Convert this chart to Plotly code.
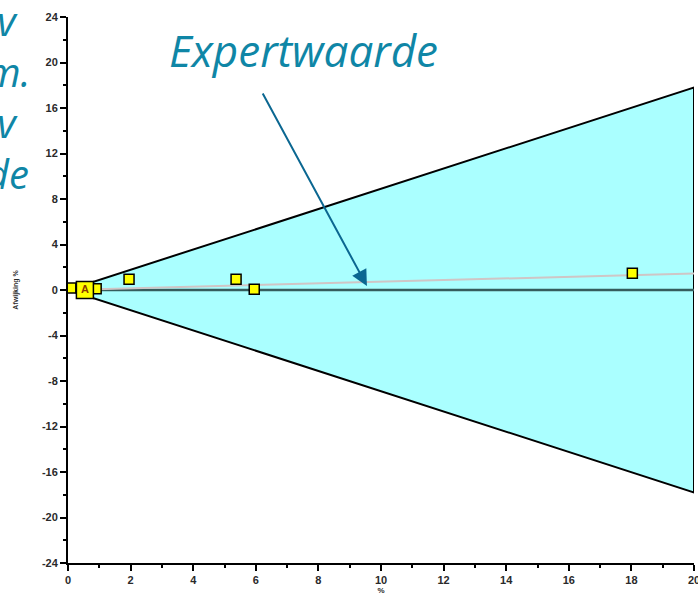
import plotly.graph_objs as go

# envelope (cyan area) and reference lines
envelope_x = [0, 20, 20, 0]
envelope_y = [0, 17.8, -17.8, 0]
expert_x = [0, 20]
expert_y = [0, 1.45]
zero_x = [0, 20]
zero_y = [0, 0]

# measurements
points_x = [0.09, 0.9, 1.95, 5.37, 5.95, 18.03]
points_y = [0.18, 0.12, 0.94, 0.94, 0.06, 1.47]
label_x = [0.54]
label_y = [0.0]
label_text = ["A"]

# cropped slide text on the left
side_lines = ["Afwijking t.o.v", "gem.", "Afwijking t.o.v", "expertwaarde"]

x_ticks = list(range(0, 21, 2))
x_labels = [str(v) for v in x_ticks]
y_ticks = list(range(-24, 25, 4))
y_labels = [str(v) for v in y_ticks]

W, H = 698, 598
L, R, T, B = 68, 4, 17, 35
plot_w = W - L - R
plot_h = H - T - B
teal = "#0f86a6"
arrow_color = "#0b6791"


def px_x(p):
    return (p - L) / plot_w


def px_y(p):
    return (H - B - p) / plot_h


fig = go.Figure()
fig.add_trace(
    go.Scatter(
        x = envelope_x,
        y = envelope_y,
        mode = "lines",
        fill = "toself",
        fillcolor = "#aaffff",
        line = dict(color = "black", width = 2),
        hoverinfo = "skip"
    )
)
fig.add_trace(
    go.Scatter(
        x = zero_x,
        y = zero_y,
        mode = "lines",
        line = dict(color = "#365c5c", width = 2.5),
        hoverinfo = "skip"
    )
)
fig.add_trace(
    go.Scatter(
        x = expert_x,
        y = expert_y,
        mode = "lines",
        line = dict(color = "#cfc6c6", width = 2)
    )
)
fig.add_trace(
    go.Scatter(
        x = points_x,
        y = points_y,
        mode = "markers",
        marker = dict(
            symbol = "square",
            size = 10,
            color = "#ffff00",
            line = dict(color = "black", width = 1.5)
        )
    )
)
fig.add_trace(
    go.Scatter(
        x = label_x,
        y = label_y,
        mode = "markers+text",
        text = label_text,
        textposition = "middle center",
        textfont = dict(family = "Liberation Sans", size = 11, color = "#8a3a00", weight = "bold"),
        marker = dict(
            symbol = "square",
            size = 17,
            color = "#ffff00",
            line = dict(color = "black", width = 1.5)
        )
    )
)

annotations = [
    dict(
        text = "Expertwaarde",
        xref = "paper", yref = "paper",
        x = px_x(303), y = px_y(50),
        xanchor = "center", yanchor = "middle",
        showarrow = False,
        font = dict(family = "Open Sans", size = 44, color = teal, style = "italic")
    ),
    dict(
        text = "",
        x = 9.55, y = 0.35,
        ax = -105, ay = -194,
        showarrow = True,
        arrowhead = 2,
        arrowsize = 1.6,
        arrowwidth = 2,
        arrowcolor = arrow_color,
        standoff = 0
    )
]
side_right = [20, 33, 20, 31]
side_mid = [21, 71, 123, 173]
for text, xr, ym in zip(side_lines, side_right, side_mid):
    annotations.append(
        dict(
            text = text,
            xref = "paper", yref = "paper",
            x = px_x(xr), y = px_y(ym),
            xanchor = "right", yanchor = "middle",
            showarrow = False,
            font = dict(family = "Open Sans", size = 40, color = teal, style = "italic")
        )
    )

tick_font = dict(family = "Liberation Sans", size = 11, color = "#2a2a2a", weight = "bold")
fig.update_xaxes(
    range = [0, 20],
    tickvals = x_ticks,
    ticktext = x_labels,
    ticklabeloverflow = "allow",
    ticks = "outside",
    ticklen = 6,
    tickwidth = 1.5,
    tickcolor = "black",
    tickfont = tick_font,
    minor = dict(dtick = 1, ticks = "outside", ticklen = 3, tickwidth = 1.5, tickcolor = "black"),
    showline = True,
    linecolor = "black",
    linewidth = 2,
    showgrid = False,
    zeroline = False,
    automargin = False,
    title = dict(text = "%", font = dict(family = "Liberation Sans", size = 8, color = "#2a2a2a", weight = "bold"), standoff = 0)
)
fig.update_yaxes(
    range = [-24, 24],
    tickvals = y_ticks,
    ticktext = y_labels,
    ticklabeloverflow = "allow",
    ticks = "outside",
    ticklen = 6,
    tickwidth = 1.5,
    tickcolor = "black",
    tickfont = tick_font,
    minor = dict(dtick = 2, ticks = "outside", ticklen = 3, tickwidth = 1.5, tickcolor = "black"),
    showline = True,
    linecolor = "black",
    linewidth = 2,
    showgrid = False,
    zeroline = False,
    automargin = False,
    title = dict(text = "Afwijking %", font = dict(family = "Liberation Sans", size = 7, color = "#2a2a2a", weight = "bold"), standoff = 22)
)
fig.update_layout(
    width = W,
    height = H,
    margin = dict(l = L, r = R, t = T, b = B),
    showlegend = False,
    plot_bgcolor = "white",
    paper_bgcolor = "white",
    annotations = annotations
)
# page body has a default margin, drop it so the figure fills the window
fig.write_html(
    "out.html",
    config = {"displayModeBar": False},
    post_script = "document.body.style.margin = '0'; document.body.style.overflow = 'hidden';"
)
